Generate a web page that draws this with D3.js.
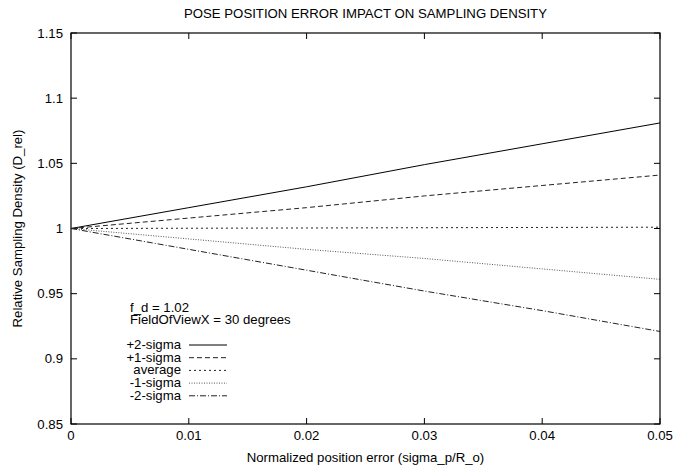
<!DOCTYPE html>
<html>
<head>
<meta charset="utf-8">
<script src="https://cdn.jsdelivr.net/npm/d3@7"></script>
<style>
  body { margin: 0; background: #fff; }
  text { font-family: "Liberation Sans", Arial, sans-serif; font-size: 13.2px; fill: #000; }
</style>
</head>
<body>
<script>
// chart data
var xValues = [0, 0.01, 0.02, 0.03, 0.04, 0.05];
var plus2 = [1, 1.016, 1.032, 1.049, 1.065, 1.081];
var plus1 = [1, 1.008, 1.016, 1.025, 1.033, 1.041];
var avg = [1, 1.0002, 1.0004, 1.0006, 1.0008, 1.001];
var minus1 = [1, 0.992, 0.984, 0.977, 0.969, 0.961];
var minus2 = [1, 0.984, 0.968, 0.952, 0.937, 0.921];
var seriesNames = ['+2-sigma', '+1-sigma', 'average', '-1-sigma', '-2-sigma'];
var xTicks = [0, 0.01, 0.02, 0.03, 0.04, 0.05];
var yTicks = [0.85, 0.9, 0.95, 1, 1.05, 1.1, 1.15];

var width = 676;
var height = 469;
var pLeft = 71, pRight = 660, pTop = 33, pBottom = 424;

var svg = d3.select("body")
  .append("svg")
  .attr("width", width)
  .attr("height", height);

var x = d3.scaleLinear().domain([0, 0.05]).range([pLeft, pRight]);
var y = d3.scaleLinear().domain([0.85, 1.15]).range([pBottom, pTop]);

var series = [plus2, plus1, avg, minus1, minus2];
var dashes = ['none', '5,3', '2,3', '1,1.5', '6,2,1,2'];
var colors = ['#000', '#222', '#222', '#555', '#222'];

// ticks, inward on all four sides
var tickLen = 6;
xTicks.forEach(function(t) {
  svg.append('line').attr('x1', x(t)).attr('x2', x(t)).attr('y1', pBottom).attr('y2', pBottom - tickLen).attr('stroke', '#000');
  svg.append('line').attr('x1', x(t)).attr('x2', x(t)).attr('y1', pTop).attr('y2', pTop + tickLen).attr('stroke', '#000');
  svg.append('text').attr('x', x(t)).attr('y', pBottom + 16).attr('text-anchor', 'middle').text(d3.format('')(t));
});
yTicks.forEach(function(t) {
  svg.append('line').attr('x1', pLeft).attr('x2', pLeft + tickLen).attr('y1', y(t)).attr('y2', y(t)).attr('stroke', '#000');
  svg.append('line').attr('x1', pRight).attr('x2', pRight - tickLen).attr('y1', y(t)).attr('y2', y(t)).attr('stroke', '#000');
  svg.append('text').attr('x', pLeft - 8).attr('y', y(t) + 4.5).attr('text-anchor', 'end').text(d3.format('')(t));
});

// lines
var line = d3.line()
  .x(function(d, i) { return x(xValues[i]); })
  .y(function(d) { return y(d); });

series.forEach(function(s, i) {
  svg.append('path')
    .datum(s)
    .attr('d', line)
    .attr('fill', 'none')
    .attr('stroke', colors[i])
    .attr('stroke-width', 1)
    .attr('stroke-dasharray', dashes[i]);
});

// frame
svg.append('rect')
  .attr('x', pLeft).attr('y', pTop)
  .attr('width', pRight - pLeft).attr('height', pBottom - pTop)
  .attr('fill', 'none').attr('stroke', '#000').attr('stroke-width', 1.2);

// titles
svg.append('text').attr('x', (pLeft + pRight) / 2).attr('y', 18).attr('text-anchor', 'middle')
  .text('POSE POSITION ERROR IMPACT ON SAMPLING DENSITY');
svg.append('text').attr('x', (pLeft + pRight) / 2).attr('y', 462).attr('text-anchor', 'middle')
  .text('Normalized position error (sigma_p/R_o)');
svg.append('text').attr('transform', 'translate(22,' + ((pTop + pBottom) / 2) + ') rotate(-90)')
  .attr('text-anchor', 'middle')
  .text('Relative Sampling Density (D_rel)');

// labels
svg.append('text').attr('x', 130).attr('y', 312).text('f_d = 1.02');
svg.append('text').attr('x', 130).attr('y', 324).text('FieldOfViewX = 30 degrees');

// legend
seriesNames.forEach(function(name, i) {
  var ly = 349 + i * 12.7;
  svg.append('text').attr('x', 181).attr('y', ly).attr('text-anchor', 'end').text(name);
  svg.append('line')
    .attr('x1', 189).attr('x2', 227)
    .attr('y1', ly - 4).attr('y2', ly - 4)
    .attr('stroke', colors[i])
    .attr('stroke-dasharray', dashes[i]);
});
</script>
</body>
</html>
